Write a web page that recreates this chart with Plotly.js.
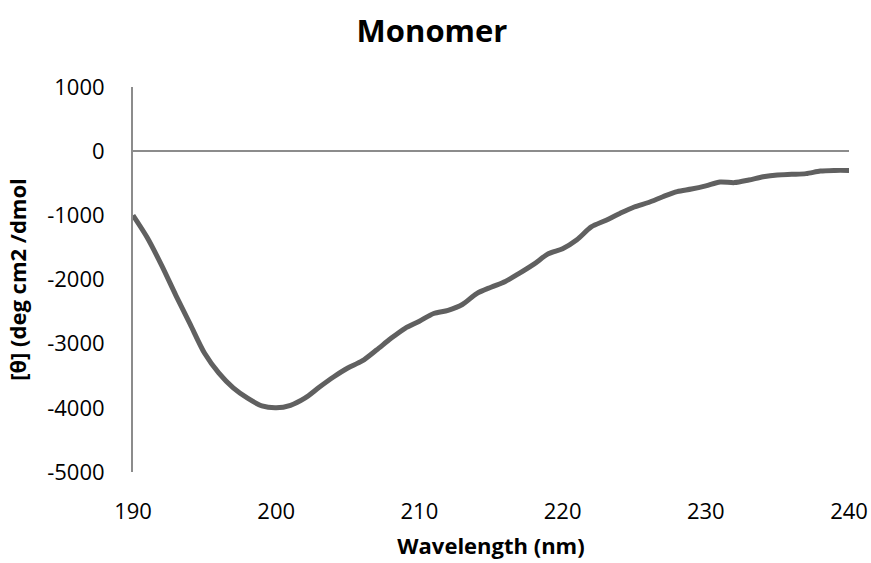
<!DOCTYPE html>
<html>
<head>
<meta charset="utf-8">
<script src="https://cdn.plot.ly/plotly-3.0.1.min.js"></script>
<style>html,body{margin:0;padding:0;background:#fff;}#chart{width:871px;height:563px;}</style>
</head>
<body>
<div id="chart"></div>
<script>
var wavelength = [190,191,192,193,194,195,196,197,198,199,200,201,202,203,204,205,206,207,208,209,210,211,212,213,214,215,216,217,218,219,220,221,222,223,224,225,226,227,228,229,230,231,232,233,234,235,236,237,238,239,240];
var theta = [-1000,-1350,-1780,-2250,-2700,-3150,-3460,-3690,-3850,-3970,-4000,-3960,-3850,-3680,-3520,-3380,-3270,-3100,-2920,-2760,-2650,-2530,-2480,-2390,-2220,-2120,-2030,-1900,-1760,-1600,-1520,-1380,-1180,-1080,-970,-870,-800,-710,-630,-590,-540,-480,-490,-450,-400,-370,-360,-350,-310,-300,-300];
var xTicks = [190,200,210,220,230,240];
var yTicks = [1000,0,-1000,-2000,-3000,-4000,-5000];
var chartTitle = 'Monomer';
var xTitle = 'Wavelength (nm)';
var yTitle = '[θ] (deg cm2 /dmol';

var font = '"Open Sans", sans-serif';
Plotly.newPlot('chart', [{
  x: wavelength, y: theta, type: 'scatter', mode: 'lines',
  line: {color: '#606060', width: 5, shape: 'spline', smoothing: 0.8},
  hoverinfo: 'none'
}], {
  width: 871, height: 563,
  margin: {l: 133, r: 22, t: 87, b: 91},
  paper_bgcolor: '#fff', plot_bgcolor: '#fff',
  showlegend: false,
  font: {family: font, color: '#000'},
  title: {text: '<b>' + chartTitle + '</b>', x: 0.496, xanchor: 'center', y: 0.945, yanchor: 'middle', font: {size: 31, family: font, color: '#000'}},
  xaxis: {
    range: [190, 240], tickvals: xTicks, ticktext: xTicks.map(String),
    showgrid: false, zeroline: false, showline: false,
    ticks: 'outside', ticklen: 20, tickcolor: 'rgba(0,0,0,0)',
    tickfont: {size: 22, family: font, color: '#000'},
    title: {text: '<b>' + xTitle + '</b>', font: {size: 22, family: font, color: '#000'}, standoff: 14}
  },
  yaxis: {
    range: [-5000, 1000], tickvals: yTicks, ticktext: yTicks.map(String),
    showgrid: false, zeroline: true, zerolinecolor: '#8c8c8c', zerolinewidth: 2,
    showline: true, linecolor: '#8c8c8c', linewidth: 2,
    ticks: 'outside', ticklen: 22, tickcolor: 'rgba(0,0,0,0)',
    tickfont: {size: 22, family: font, color: '#000'},
    title: {text: '<b>' + yTitle + '</b>', font: {size: 22, family: font, color: '#000'}, standoff: 14}
  }
}, {staticPlot: true});
</script>
</body>
</html>
